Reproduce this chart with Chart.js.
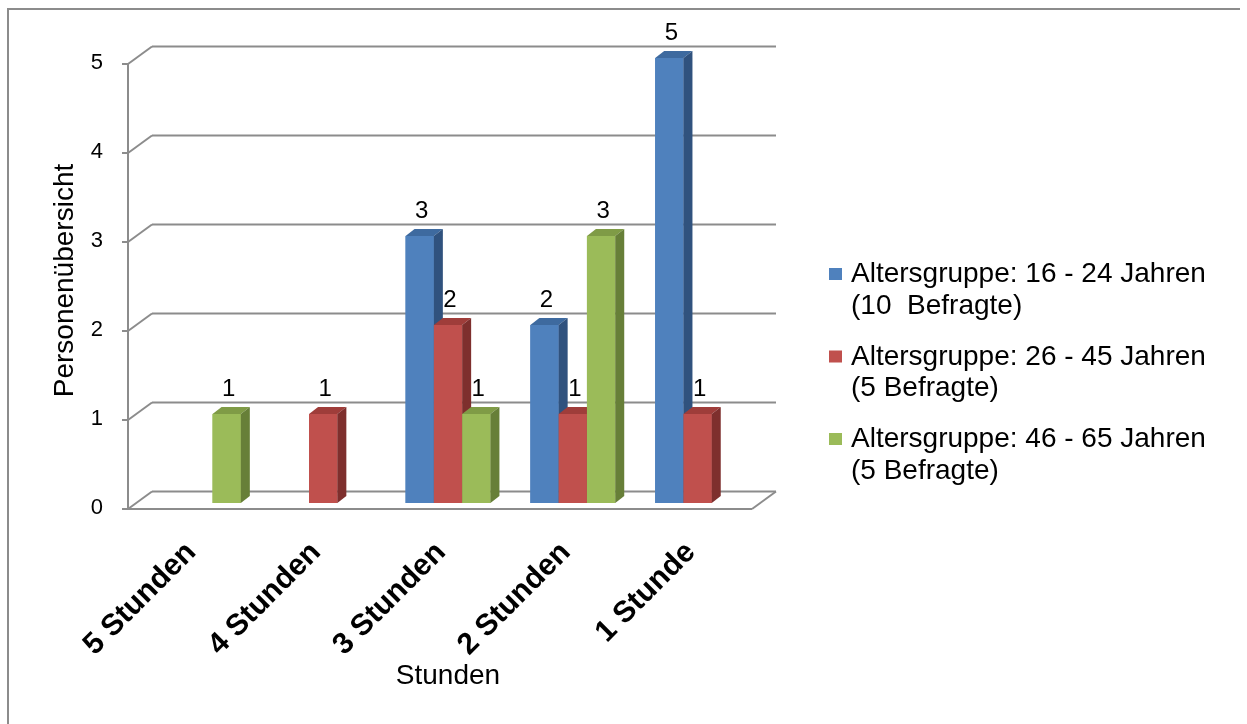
<!DOCTYPE html>
<html>
<head>
<meta charset="utf-8">
<script src="https://cdn.jsdelivr.net/npm/chart.js@4"></script>
<style>
  html, body { margin: 0; padding: 0; background: #ffffff; }
  canvas { display: block; }
</style>
</head>
<body>
<canvas id="chart" width="1247" height="724"></canvas>
<script>
// Antwortkategorien (x-Achse)
const categories = ['5 Stunden', '4 Stunden', '3 Stunden', '2 Stunden', '1 Stunde'];

// Anzahl Personen je Altersgruppe (leer = keine Angabe)
const group16to24 = [null, null, 3, 2, 5];
const group26to45 = [null, 1, 2, 1, 1];
const group46to65 = [1, null, 1, 3, null];

// Legendentexte, zeilenweise
const seriesNames = [
  ['Altersgruppe: 16 - 24 Jahren', '(10  Befragte)'],
  ['Altersgruppe: 26 - 45 Jahren', '(5 Befragte)'],
  ['Altersgruppe: 46 - 65 Jahren', '(5 Befragte)']
];

// Werte der y-Achse
const yTicks = [0, 1, 2, 3, 4, 5];

const FONT = "'Liberation Sans', Arial, sans-serif";

// Farben: Vorderseite, Oberseite, Seitenfläche
const palette = [
  { front: '#4F81BD', top: '#3E6A9F', side: '#30527E' },
  { front: '#C0504D', top: '#9F3D3A', side: '#7E2F2D' },
  { front: '#9BBB59', top: '#7F9B46', side: '#677F38' }
];

// Schräge Projektion des 3D-Rahmens relativ zur Säulenebene
const FRONT = { dx: -8, dy: 6 };
const BACK = { dx: 16, dy: -11.5 };
const DEPTH = { dx: 9, dy: -7 };
const GRID = '#8C8C8C';

function line(ctx, x1, y1, x2, y2) {
  ctx.beginPath();
  ctx.moveTo(x1, y1);
  ctx.lineTo(x2, y2);
  ctx.stroke();
}

function poly(ctx, pts, color) {
  ctx.beginPath();
  ctx.moveTo(pts[0][0], pts[0][1]);
  for (let i = 1; i < pts.length; i++) ctx.lineTo(pts[i][0], pts[i][1]);
  ctx.closePath();
  ctx.fillStyle = color;
  ctx.fill();
}

// Außenrahmen, Rückwand, Boden und vordere Achse
const framePlugin = {
  id: 'frame3d',
  beforeDraw(chart) {
    const ctx = chart.ctx;
    ctx.save();
    ctx.fillStyle = '#ffffff';
    ctx.fillRect(0, 0, chart.width, chart.height);
    ctx.strokeStyle = GRID;
    ctx.lineWidth = 2;
    ctx.beginPath();
    ctx.moveTo(8, chart.height);
    ctx.lineTo(8, 9);
    ctx.lineTo(1240, 9);
    ctx.stroke();
    ctx.restore();
  },
  beforeDatasetsDraw(chart) {
    const ctx = chart.ctx;
    const { left, right } = chart.chartArea;
    const ys = chart.scales.y;
    ctx.save();
    ctx.strokeStyle = GRID;
    ctx.lineWidth = 2;
    ctx.lineCap = 'butt';
    const fx = left + FRONT.dx;
    const bx = left + BACK.dx;
    const bxr = right + BACK.dx;
    yTicks.forEach(v => {
      const yb = ys.getPixelForValue(v);
      const fy = yb + FRONT.dy;
      const by = yb + BACK.dy;
      line(ctx, bx, by, bxr, by);
      line(ctx, fx, fy, bx, by);
      line(ctx, fx - 6, fy, fx, fy);
    });
    const y0 = ys.getPixelForValue(0);
    const yMax = ys.getPixelForValue(yTicks[yTicks.length - 1]);
    line(ctx, fx, y0 + FRONT.dy, fx, yMax + FRONT.dy);
    line(ctx, fx, y0 + FRONT.dy, right + FRONT.dx, y0 + FRONT.dy);
    line(ctx, right + FRONT.dx, y0 + FRONT.dy, bxr, y0 + BACK.dy);
    ctx.restore();
  }
};

// Säulen mit Ober- und Seitenfläche, Datenbeschriftungen
const barsPlugin = {
  id: 'bars3d',
  afterDatasetsDraw(chart) {
    const ctx = chart.ctx;
    const n = chart.data.labels.length;
    const metas = chart.data.datasets.map((d, i) => chart.getDatasetMeta(i));
    ctx.save();
    for (let c = 0; c < n; c++) {
      metas.forEach((meta, s) => {
        const v = chart.data.datasets[s].data[c];
        if (v === null || v === undefined) return;
        const el = meta.data[c];
        el.draw(ctx);
        const { x, y, base, width } = el.getProps(['x', 'y', 'base', 'width'], true);
        const l = x - width / 2, r = x + width / 2;
        const col = palette[s];
        poly(ctx, [[l, y], [r, y], [r + DEPTH.dx, y + DEPTH.dy], [l + DEPTH.dx, y + DEPTH.dy]], col.top);
        poly(ctx, [[r, y], [r + DEPTH.dx, y + DEPTH.dy], [r + DEPTH.dx, base + DEPTH.dy], [r, base]], col.side);
      });
    }
    ctx.fillStyle = '#000000';
    ctx.font = '24px ' + FONT;
    ctx.textAlign = 'center';
    ctx.textBaseline = 'middle';
    metas.forEach((meta, s) => {
      chart.data.datasets[s].data.forEach((v, c) => {
        if (v === null || v === undefined) return;
        const el = meta.data[c];
        ctx.fillText(String(v), el.x + 2, el.y - 25);
      });
    });
    ctx.restore();
  },
  afterDraw(chart) {
    const ctx = chart.ctx;
    ctx.save();
    ctx.font = '28px ' + FONT;
    ctx.textAlign = 'left';
    ctx.textBaseline = 'alphabetic';
    seriesNames.forEach((lines, i) => {
      const top = 272 + i * 82.5;
      ctx.fillStyle = palette[i].front;
      ctx.fillRect(829, top - 4, 13, 12);
      ctx.fillStyle = '#000000';
      lines.forEach((t, k) => ctx.fillText(t, 851, top + 10 + k * 31.5));
    });
    ctx.restore();
  }
};

const datasets = [group16to24, group26to45, group46to65].map((data, i) => ({
  label: seriesNames[i].join(' '),
  data: data,
  backgroundColor: palette[i].front,
  borderWidth: 0,
  barPercentage: 1.0,
  categoryPercentage: 0.68
}));

new Chart(document.getElementById('chart'), {
  type: 'bar',
  data: { labels: categories, datasets: datasets },
  plugins: [framePlugin, barsPlugin],
  options: {
    responsive: false,
    animation: false,
    events: [],
    layout: { padding: { left: 36, top: 58, right: 487, bottom: 20 } },
    plugins: {
      legend: { display: false },
      tooltip: { enabled: false }
    },
    scales: {
      x: {
        afterFit(scale) { scale.height = 724 - 503 - 20; },
        grid: { display: false, drawTicks: false },
        border: { display: false },
        ticks: {
          color: '#000000',
          font: { family: FONT, size: 30, weight: 'bold' },
          minRotation: 45,
          maxRotation: 45,
          padding: 32,
          labelOffset: -7,
          autoSkip: false
        },
        title: {
          display: true,
          text: 'Stunden',
          color: '#000000',
          font: { family: FONT, size: 28 },
          padding: { top: 0, bottom: 11 }
        }
      },
      y: {
        min: 0,
        max: 5,
        afterFit(scale) { scale.width = 100; },
        afterBuildTicks(scale) { scale.ticks = yTicks.map(v => ({ value: v })); },
        grid: { display: false, drawTicks: false },
        border: { display: false },
        ticks: {
          color: '#000000',
          font: { family: FONT, size: 22 },
          padding: 33,
          labelOffset: 5
        },
        title: {
          display: true,
          text: 'Personenübersicht',
          color: '#000000',
          font: { family: FONT, size: 28 },
          padding: { top: 12, bottom: 0 }
        }
      }
    }
  }
});
</script>
</body>
</html>
